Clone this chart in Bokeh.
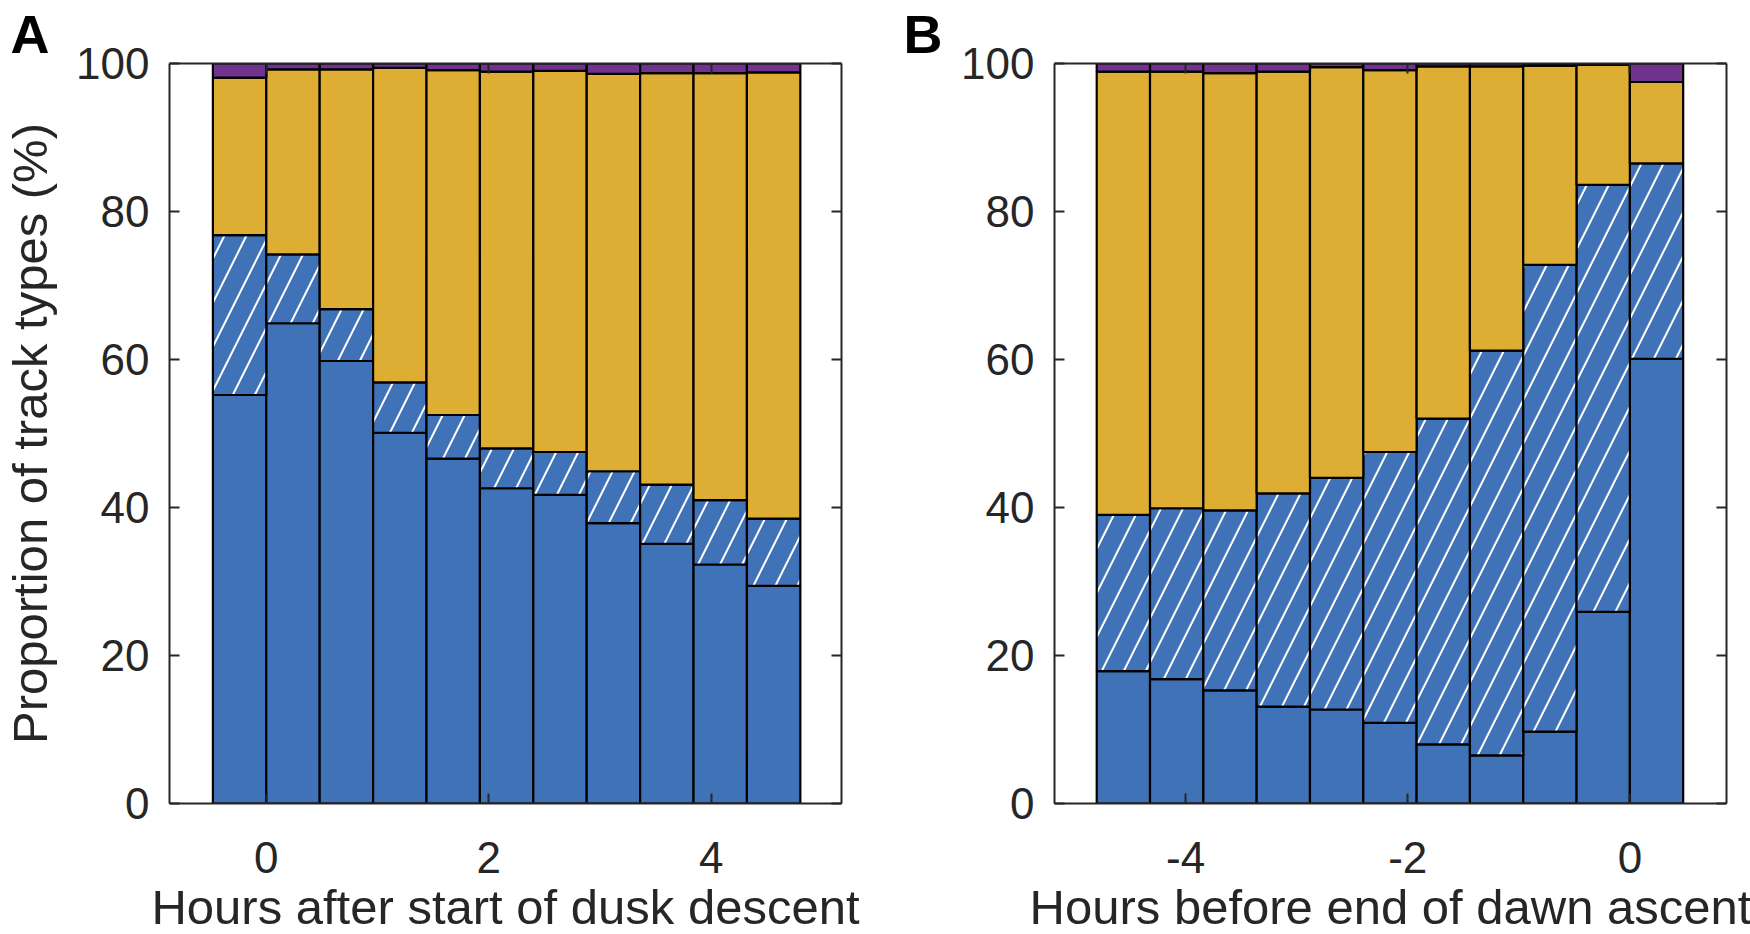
import numpy as np
from bokeh.plotting import figure
from bokeh.models import ColumnDataSource, Range1d, LinearAxis, FixedTicker
from bokeh.layouts import row
from bokeh.embed import file_html
from bokeh.resources import INLINE

# ---------------- data ----------------
hours_a = [-0.24, 0.24, 0.72, 1.20, 1.68, 2.16, 2.64, 3.12, 3.60, 4.08, 4.56]
hours_b = [-4.56, -4.08, -3.60, -3.12, -2.64, -2.16, -1.68, -1.20, -0.72, -0.24, 0.24]

# percentage of each track type per bin (stack order: bottom -> top)
a_solid   = [55.2, 64.9, 59.8, 50.1, 46.6, 42.6, 41.7, 37.9, 35.1, 32.3, 29.4]
a_hatched = [21.6, 9.3, 7.0, 6.8, 5.9, 5.4, 5.8, 7.0, 8.0, 8.7, 9.1]
a_yellow  = [21.3, 25.0, 32.4, 42.5, 46.6, 50.9, 51.5, 53.7, 55.6, 57.7, 60.3]
a_purple  = [1.9, 0.8, 0.8, 0.6, 0.9, 1.1, 1.0, 1.4, 1.3, 1.3, 1.2]

b_solid   = [17.9, 16.8, 15.3, 13.1, 12.7, 10.9, 8.0, 6.5, 9.7, 25.9, 60.1]
b_hatched = [21.1, 23.1, 24.3, 28.8, 31.3, 36.6, 44.0, 54.7, 63.1, 57.7, 26.4]
b_yellow  = [59.9, 59.0, 59.1, 57.0, 55.5, 51.6, 47.6, 38.4, 26.9, 16.2, 11.0]
b_purple  = [1.1, 1.1, 1.3, 1.1, 0.5, 0.9, 0.4, 0.4, 0.3, 0.2, 2.5]

y_ticks = [0, 20, 40, 60, 80, 100]
xticks_a = [0, 2, 4]
xticks_b = [-4, -2, 0]
xtick_labels_b = {-4: "-4", -2: "-2", 0: "0"}
bar_width = 0.48

BLUE = "#4072B8"
YELLOW = "#DDAE33"
PURPLE = "#72338E"
TXT = "#262626"
FONT = "Liberation Sans"

FRAME_W, FRAME_H = 672, 740


def style_axis(ax, size="44px"):
    ax.axis_line_color = TXT
    ax.axis_line_width = 2
    ax.major_tick_line_color = TXT
    ax.major_tick_line_width = 2
    ax.major_tick_in = 10
    ax.major_tick_out = 0
    ax.minor_tick_in = 0
    ax.minor_tick_out = 0
    ax.major_label_text_font = FONT
    ax.major_label_text_font_size = size
    ax.major_label_text_color = TXT
    ax.axis_label_text_font = FONT
    ax.axis_label_text_font_size = "49px"
    ax.axis_label_text_font_style = "normal"
    ax.axis_label_text_color = TXT


def make_panel(hours, segs, xr, xticks, xlabels, xlabel, ylabel, letter,
               b_left, b_right, letter_dx):
    p = figure(width=b_left + FRAME_W + b_right, height=926,
               frame_width=FRAME_W, frame_height=FRAME_H,
               x_range=Range1d(*xr), y_range=Range1d(0, 100),
               output_backend="svg", toolbar_location=None,
               min_border_left=b_left, min_border_right=b_right,
               min_border_top=63, min_border_bottom=118)
    p.outline_line_color = None
    p.xgrid.visible = False
    p.ygrid.visible = False
    p.background_fill_color = "white"

    # panel letter as the figure title, shifted to the top-left corner
    p.title.text = letter
    p.title.text_font = FONT
    p.title.text_font_size = "54px"
    p.title.text_font_style = "bold"
    p.title.text_color = "black"
    p.title.align = "left"
    p.title.offset = -letter_dx
    p.title.standoff = 0

    solid, hatched, yellow, purple = [np.array(s, dtype=float) for s in segs]
    c1 = solid
    c2 = c1 + hatched
    c3 = c2 + yellow
    c4 = c3 + purple
    src = ColumnDataSource(dict(x=hours, b0=np.zeros(len(hours)), c1=c1, c2=c2, c3=c3, c4=c4))

    common = dict(x="x", width=bar_width, source=src, line_color="black", line_width=2.2)
    p.vbar(bottom="b0", top="c1", fill_color=BLUE, **common)
    p.vbar(bottom="c1", top="c2", fill_color=BLUE, hatch_pattern="/",
           hatch_color="white", hatch_weight=2, hatch_scale=44, **common)
    p.vbar(bottom="c2", top="c3", fill_color=YELLOW, **common)
    p.vbar(bottom="c3", top="c4", fill_color=PURPLE, **common)

    # bottom / left axes
    p.xaxis.ticker = FixedTicker(ticks=xticks)
    p.yaxis.ticker = FixedTicker(ticks=y_ticks)
    style_axis(p.xaxis[0])
    style_axis(p.yaxis[0])
    if xlabels:
        p.xaxis.major_label_overrides = xlabels
    p.xaxis.major_label_standoff = 38
    p.xaxis.axis_label = xlabel
    p.xaxis.axis_label_standoff = 4
    p.yaxis.major_label_standoff = 20
    if ylabel:
        p.yaxis.axis_label = ylabel
        p.yaxis.axis_label_standoff = 16

    # mirrored tick-only axes on top and right (box)
    top = LinearAxis(ticker=FixedTicker(ticks=xticks))
    style_axis(top, "1px")
    top.major_label_overrides = {t: "" for t in xticks}
    top.major_label_standoff = 0
    p.add_layout(top, "above")
    right = LinearAxis(ticker=FixedTicker(ticks=y_ticks))
    style_axis(right, "1px")
    right.major_label_overrides = {t: "" for t in y_ticks}
    right.major_label_standoff = 0
    p.add_layout(right, "right")
    return p


pA = make_panel(hours_a, [a_solid, a_hatched, a_yellow, a_purple], (-0.87, 5.17),
                xticks_a, None, "Hours after start of dusk descent",
                "Proportion of track types (%)", "A", 156, 56, 159)
pB = make_panel(hours_b, [b_solid, b_hatched, b_yellow, b_purple], (-5.18, 0.87),
                xticks_b, xtick_labels_b, "Hours before end of dawn ascent",
                None, "B", 157, 30, 151)

layout = row(pA, pB)
open("out.html", "w").write(file_html(layout, INLINE))
